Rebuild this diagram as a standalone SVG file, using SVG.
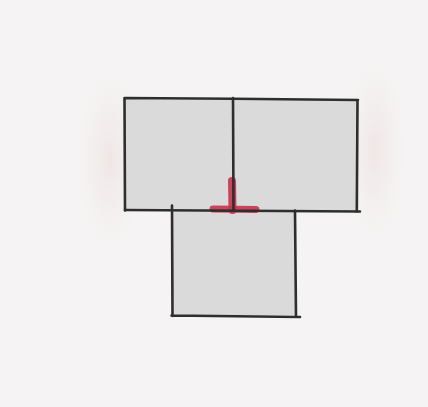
<svg xmlns="http://www.w3.org/2000/svg" width="428" height="407" viewBox="0 0 428 407">
<style>
.box{fill:#dadada;stroke:none}
.edge{fill:none;stroke:#2e2e2e;stroke-width:2.6;stroke-linecap:round;stroke-linejoin:round}
.red{fill:none;stroke:#c8324f;stroke-linecap:round;stroke-opacity:0.9}
</style>
<defs>
<radialGradient id="smudge" cx="0.5" cy="0.5" r="0.5">
<stop offset="0" stop-color="#ead8d8" stop-opacity="0.5"/>
<stop offset="1" stop-color="#f4f2f2" stop-opacity="0"/>
</radialGradient>
</defs>
<rect width="428" height="407" fill="#f5f3f3"/>
<ellipse cx="110" cy="160" rx="40" ry="110" fill="url(#smudge)"/>
<ellipse cx="375" cy="150" rx="35" ry="110" fill="url(#smudge)"/>
<g id="node-top-left">
<rect class="box" x="125" y="98" width="108" height="112"/>
<path class="edge" d="M124.5,98 L233,98.8 M124.5,98 L125,210.5"/>
</g>
<g id="node-top-right">
<rect class="box" x="233" y="99" width="124" height="112"/>
<path class="edge" d="M233,98.8 L358,100 M357.5,100 L356.8,211.5"/>
</g>
<g id="node-bottom">
<rect class="box" x="172" y="211" width="123" height="104"/>
<path class="edge" d="M172,205.5 L172.5,316 M171.5,315.5 L300,317 M295,210.5 L296,317"/>
</g>
<g id="connectors">
<path class="red" stroke-width="8" d="M232,181 L232.5,210"/>
<path class="red" stroke-width="7" d="M213,209 L256,209.5"/>
<path class="edge" d="M233,98 L233.5,210.5 M125,210 L360,211.5"/>
</g>
</svg>
